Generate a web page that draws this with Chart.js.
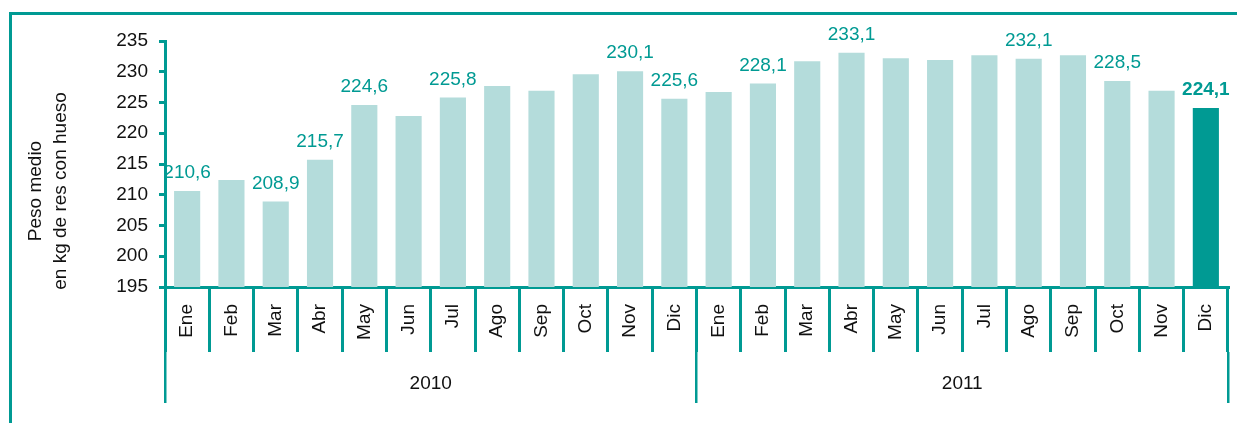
<!DOCTYPE html>
<html>
<head>
<meta charset="utf-8">
<script src="https://cdn.jsdelivr.net/npm/chart.js@4"></script>
<style>
html, body { margin: 0; padding: 0; background: #fff; }
#wrap { position: relative; width: 1237px; height: 423px; overflow: hidden; }
#frame { position: absolute; left: 9px; top: 12px; width: 1400px; height: 600px; border-top: 3px solid #009A93; border-left: 3px solid #009A93; }
canvas { position: absolute; left: 0; top: 0; }
</style>
</head>
<body>
<div id="wrap"><div id="frame"></div><canvas id="chart" width="1237" height="423"></canvas></div>
<script>
// Datos
const months = ['Ene', 'Feb', 'Mar', 'Abr', 'May', 'Jun', 'Jul', 'Ago', 'Sep', 'Oct', 'Nov', 'Dic',
                'Ene', 'Feb', 'Mar', 'Abr', 'May', 'Jun', 'Jul', 'Ago', 'Sep', 'Oct', 'Nov', 'Dic'];
const years = ['2010', '2011'];
const values = [210.6, 212.4, 208.9, 215.7, 224.6, 222.8, 225.8, 227.7, 226.9, 229.6, 230.1, 225.6,
                226.7, 228.1, 231.7, 233.1, 232.2, 231.9, 232.7, 232.1, 232.7, 228.5, 226.9, 224.1];
const shownLabels = [0, 2, 3, 4, 6, 10, 11, 13, 15, 19, 21, 23];
const highlight = 23;
const yTicks = [195, 235, 5]; // min, max, paso
const yTitle = ['Peso medio', 'en kg de res con hueso'];

const TEAL = '#009A93', LIGHT = '#B4DCDB', FONT = 'Arial, "Liberation Sans", sans-serif';
const fmt = v => v.toFixed(1).replace('.', ',');

const valueLabels = {
    id: 'valueLabels',
    afterDatasetsDraw(chart) {
        const ctx = chart.ctx, meta = chart.getDatasetMeta(0);
        ctx.save();
        ctx.fillStyle = TEAL;
        ctx.textAlign = 'center';
        ctx.textBaseline = 'middle';
        shownLabels.forEach(i => {
            const bar = meta.data[i];
            ctx.font = (i === highlight ? 'bold ' : '') + '19px ' + FONT;
            ctx.fillText(fmt(values[i]), bar.x, bar.y - 18);
        });
        ctx.restore();
    }
};

const yAxisTitle = {
    id: 'yAxisTitle',
    afterDraw(chart) {
        const ctx = chart.ctx;
        ctx.save();
        ctx.translate(48, 191);
        ctx.rotate(-Math.PI / 2);
        ctx.fillStyle = '#111';
        ctx.font = '19px ' + FONT;
        ctx.textAlign = 'center';
        ctx.textBaseline = 'middle';
        yTitle.forEach((t, i) => ctx.fillText(t, 0, (i - 0.5) * 25));
        ctx.restore();
    }
};

new Chart(document.getElementById('chart'), {
    type: 'bar',
    data: {
        labels: months,
        datasets: [{
            data: values,
            backgroundColor: values.map((v, i) => i === highlight ? TEAL : LIGHT),
            categoryPercentage: 1,
            barPercentage: 0.59
        }]
    },
    options: {
        responsive: false, animation: false,
        layout: { padding: { left: 116, right: 9, top: 41, bottom: 20 } },
        plugins: { legend: { display: false }, tooltip: { enabled: false } },
        scales: {
            y: {
                min: yTicks[0], max: yTicks[1],
                afterFit: s => { s.width = 49; },
                ticks: { stepSize: yTicks[2], padding: 11, color: '#111', font: { family: FONT, size: 19 } },
                grid: { drawOnChartArea: false, tickLength: 6, lineWidth: 3, color: TEAL },
                border: { color: TEAL, width: 3 }
            },
            x: {
                weight: 0,
                afterFit: s => { s.height = 65; },
                ticks: { minRotation: 90, maxRotation: 90, autoSkip: false, padding: -48, color: '#111', font: { family: FONT, size: 19 } },
                grid: { drawOnChartArea: false, offset: true, tickLength: 65, lineWidth: 3, color: TEAL },
                border: { color: TEAL, width: 3 }
            },
            x2: {
                type: 'category', position: 'bottom', labels: years, offset: true, weight: 1,
                afterFit: s => { s.height = 51; },
                ticks: { padding: -31, color: '#111', font: { family: FONT, size: 19 } },
                grid: { drawOnChartArea: false, offset: true, tickLength: 51, lineWidth: 2.5, color: TEAL },
                border: { display: false }
            }
        }
    },
    plugins: [valueLabels, yAxisTitle]
});
</script>
</body>
</html>
